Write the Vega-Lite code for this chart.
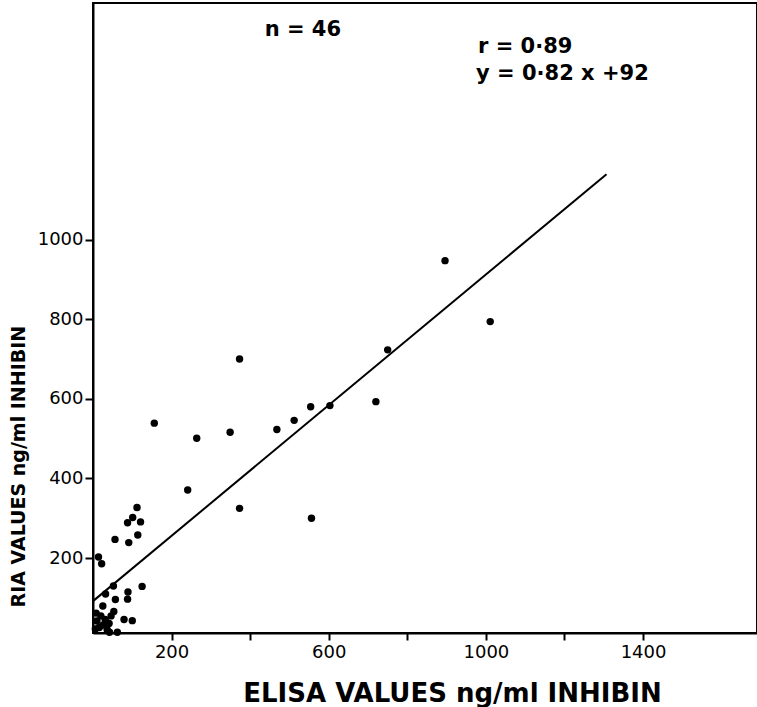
{
  "$schema": "https://vega.github.io/schema/vega-lite/v6.json",
  "width": 664,
  "height": 630,
  "autosize": {"type": "none"},
  "padding": {"left": 93, "top": 3, "right": 0, "bottom": 74},
  "background": "white",
  "config": {
    "view": {"stroke": "black", "strokeWidth": 2},
    "axis": {
      "domainColor": "black", "domainWidth": 2, "tickColor": "black", "tickWidth": 2,
      "grid": false, "labelFont": "DejaVu Sans", "labelFontSize": 18, "labelColor": "black",
      "titleColor": "black"
    }
  },
  "datasets": {
    "pts": [
      {"elisa": 896, "ria": 947}, {"elisa": 1011, "ria": 794}, {"elisa": 750, "ria": 723},
      {"elisa": 720, "ria": 593}, {"elisa": 603, "ria": 583}, {"elisa": 554, "ria": 580},
      {"elisa": 512, "ria": 546}, {"elisa": 468, "ria": 523}, {"elisa": 373, "ria": 700},
      {"elisa": 349, "ria": 516}, {"elisa": 264, "ria": 501}, {"elisa": 156, "ria": 539},
      {"elisa": 241, "ria": 371}, {"elisa": 373, "ria": 325}, {"elisa": 556, "ria": 300},
      {"elisa": 112, "ria": 327}, {"elisa": 101, "ria": 302}, {"elisa": 88, "ria": 289},
      {"elisa": 121, "ria": 291}, {"elisa": 114, "ria": 258}, {"elisa": 56, "ria": 247},
      {"elisa": 91, "ria": 239}, {"elisa": 14, "ria": 203}, {"elisa": 22, "ria": 186},
      {"elisa": 125, "ria": 129}, {"elisa": 89, "ria": 115}, {"elisa": 88, "ria": 97},
      {"elisa": 57, "ria": 96}, {"elisa": 52, "ria": 130}, {"elisa": 32, "ria": 110},
      {"elisa": 25, "ria": 80}, {"elisa": 79, "ria": 46}, {"elisa": 100, "ria": 43},
      {"elisa": 42, "ria": 14}, {"elisa": 62, "ria": 14}, {"elisa": 53, "ria": 66},
      {"elisa": 6, "ria": 22}, {"elisa": 10, "ria": 42}, {"elisa": 16, "ria": 26},
      {"elisa": 20, "ria": 55}, {"elisa": 26, "ria": 32}, {"elisa": 31, "ria": 46},
      {"elisa": 36, "ria": 20}, {"elisa": 8, "ria": 62}, {"elisa": 41, "ria": 36},
      {"elisa": 46, "ria": 55}
    ],
    "fit": [{"elisa": 0, "ria": 92}, {"elisa": 1307, "ria": 1164}],
    "notes": [
      {"elisa": 437, "ria": 1526, "t": "n = 46"},
      {"elisa": 980, "ria": 1483, "t": "r = 0·89"},
      {"elisa": 975, "ria": 1415, "t": "y = 0·82 x +92"}
    ]
  },
  "layer": [
    {
      "data": {"name": "pts"},
      "mark": {"type": "point", "filled": true, "color": "black", "size": 55, "opacity": 1},
      "encoding": {
        "x": {
          "field": "elisa", "type": "quantitative",
          "scale": {"domain": [0, 1690], "nice": false, "zero": false},
          "axis": {
            "values": [200, 400, 600, 800, 1000, 1200, 1400],
            "labelExpr": "datum.value % 400 == 200 ? datum.label : ''",
            "format": "d", "tickSize": 7, "labelPadding": 3,
            "title": "ELISA VALUES ng/ml INHIBIN",
            "titleFont": "DejaVu Sans", "titleFontSize": 26, "titleFontWeight": 900,
            "titleX": 359, "titleY": 68, "titleBaseline": "alphabetic", "titleAlign": "center"
          }
        },
        "y": {
          "field": "ria", "type": "quantitative",
          "scale": {"domain": [12, 1594], "nice": false, "zero": false},
          "axis": {
            "values": [200, 400, 600, 800, 1000],
            "format": "d", "tickSize": 8, "labelPadding": 2,
            "title": "RIA VALUES ng/ml INHIBIN",
            "titleFont": "DejaVu Sans", "titleFontSize": 19, "titleFontWeight": 900,
            "titleAngle": -90, "titleAlign": "left", "titleBaseline": "middle",
            "titleX": -75, "titleY": 604
          }
        }
      }
    },
    {
      "data": {"name": "fit"},
      "mark": {"type": "line", "color": "black", "strokeWidth": 2},
      "encoding": {
        "x": {"field": "elisa", "type": "quantitative"},
        "y": {"field": "ria", "type": "quantitative"}
      }
    },
    {
      "data": {"name": "notes"},
      "mark": {"type": "text", "align": "left", "baseline": "middle", "font": "DejaVu Sans", "fontWeight": "bold", "fontSize": 21, "color": "black"},
      "encoding": {
        "x": {"field": "elisa", "type": "quantitative"},
        "y": {"field": "ria", "type": "quantitative"},
        "text": {"field": "t"}
      }
    }
  ]
}
